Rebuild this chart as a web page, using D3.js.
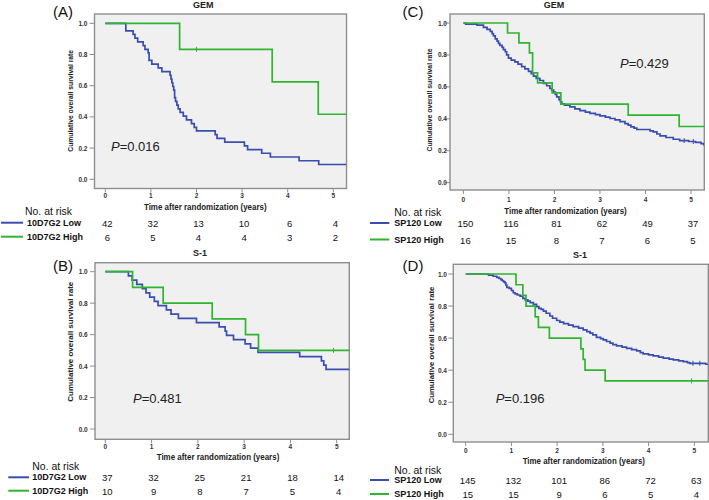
<!DOCTYPE html>
<html><head><meta charset="utf-8">
<script src="https://cdn.jsdelivr.net/npm/d3@7"></script>
<style>body{margin:0;background:#fff}svg{display:block}</style>
</head><body><svg id="c" width="709" height="500"></svg>
<script>
// ---------- DATA ----------
const xTicks = [0, 1, 2, 3, 4, 5];
const yTicks = [0.0, 0.2, 0.4, 0.6, 0.8, 1.0];
const xAxisTitle = "Time after randomization (years)";
const yAxisTitle = "Cumulative overall survival rate";
const riskHeader = "No. at risk";
const groupNames10 = ["10D7G2 Low", "10D7G2 High"];
const groupNamesSP = ["SP120 Low", "SP120 High"];
const panelIds = ["(A)", "(B)", "(C)", "(D)"];
const panelTitles = ["GEM", "S-1", "GEM", "S-1"];
const pValues = ["0.016", "0.481", "0.429", "0.196"];

// Kaplan-Meier steps [time (years), survival]
const lowA = [[0,1],[0.45,0.952],[0.61,0.929],[0.65,0.905],[0.71,0.881],[0.83,0.857],[0.87,0.833],[0.94,0.810],[0.96,0.762],[1.02,0.738],[1.16,0.714],[1.24,0.690],[1.42,0.667],[1.44,0.643],[1.46,0.619],[1.48,0.595],[1.50,0.571],[1.52,0.524],[1.54,0.500],[1.57,0.476],[1.60,0.452],[1.64,0.429],[1.71,0.405],[1.78,0.381],[1.89,0.357],[1.95,0.333],[2.0,0.310],[2.41,0.286],[2.45,0.262],[2.62,0.238],[3.05,0.214],[3.12,0.190],[3.43,0.167],[3.62,0.143],[4.25,0.119],[4.68,0.095]];
const highA = [[0,1],[1.63,0.833],[3.66,0.625],[4.67,0.417]];
const censHighA = [2.0];

const lowB = [[0,1],[0.50,0.973],[0.58,0.946],[0.68,0.919],[0.80,0.892],[0.88,0.865],[0.96,0.838],[1.06,0.811],[1.14,0.784],[1.32,0.757],[1.42,0.730],[1.58,0.703],[1.97,0.676],[2.46,0.649],[2.59,0.622],[2.62,0.595],[2.77,0.568],[3.02,0.541],[3.14,0.514],[3.30,0.487],[4.20,0.460],[4.67,0.433],[4.72,0.406],[4.77,0.379]];
const highB = [[0,1],[0.59,0.9],[1.25,0.8],[2.31,0.7],[3.03,0.6],[3.31,0.5]];
const censHighB = [4.93];

const lowC = [[0,1],[0.05,0.993],[0.3,0.987],[0.44,0.973],[0.52,0.96],[0.59,0.947],[0.63,0.933],[0.66,0.92],[0.70,0.9],[0.74,0.887],[0.77,0.873],[0.80,0.86],[0.85,0.847],[0.88,0.833],[0.92,0.82],[0.95,0.8],[0.99,0.78],[1.05,0.767],[1.13,0.757],[1.20,0.743],[1.28,0.727],[1.35,0.713],[1.43,0.697],[1.49,0.683],[1.54,0.667],[1.60,0.653],[1.68,0.64],[1.76,0.622],[1.83,0.607],[1.90,0.59],[1.94,0.58],[1.98,0.567],[2.02,0.553],[2.05,0.537],[2.10,0.52],[2.13,0.507],[2.16,0.493],[2.22,0.485],[2.34,0.475],[2.45,0.462],[2.56,0.451],[2.68,0.442],[2.78,0.434],[2.90,0.426],[3.00,0.418],[3.12,0.41],[3.22,0.402],[3.33,0.393],[3.44,0.383],[3.55,0.37],[3.62,0.36],[3.68,0.35],[3.75,0.342],[3.81,0.333],[4.10,0.325],[4.17,0.318],[4.25,0.305],[4.32,0.293],[4.45,0.283],[4.61,0.272],[4.75,0.264],[4.95,0.258],[5.10,0.252],[5.22,0.245],[5.28,0.238]];
const highC = [[0,1],[0.97,0.9375],[1.22,0.875],[1.45,0.8125],[1.52,0.6875],[1.63,0.625],[1.95,0.5625],[2.14,0.492],[3.62,0.423],[4.74,0.352]];
const censLowC = [4.85, 5.05];

const lowD = [[0,1],[0.5,0.993],[0.6,0.986],[0.68,0.979],[0.73,0.972],[0.77,0.965],[0.80,0.958],[0.83,0.951],[0.86,0.944],[0.88,0.931],[0.90,0.917],[0.95,0.91],[1.00,0.897],[1.04,0.883],[1.08,0.876],[1.13,0.869],[1.19,0.862],[1.25,0.848],[1.30,0.838],[1.36,0.831],[1.41,0.821],[1.48,0.81],[1.55,0.797],[1.60,0.786],[1.65,0.779],[1.70,0.769],[1.76,0.755],[1.84,0.738],[1.90,0.724],[1.99,0.71],[2.06,0.7],[2.14,0.69],[2.25,0.681],[2.35,0.672],[2.47,0.662],[2.57,0.652],[2.65,0.641],[2.72,0.631],[2.78,0.62],[2.86,0.605],[2.95,0.597],[3.01,0.589],[3.08,0.579],[3.16,0.569],[3.22,0.56],[3.30,0.552],[3.42,0.544],[3.52,0.536],[3.63,0.528],[3.74,0.52],[3.82,0.51],[3.88,0.502],[4.00,0.496],[4.10,0.489],[4.22,0.482],[4.32,0.475],[4.45,0.469],[4.54,0.464],[4.66,0.458],[4.76,0.453],[4.85,0.447],[4.90,0.443],[5.25,0.437]];
const highD = [[0,1],[1.10,0.933],[1.25,0.867],[1.32,0.8],[1.52,0.733],[1.59,0.667],[1.83,0.6],[2.52,0.533],[2.57,0.467],[2.61,0.4],[3.05,0.333]];
const censLowD = [4.97, 5.12];
const censHighD = [4.94];

const riskLowA = [42, 32, 13, 10, 6, 4];
const riskHighA = [6, 5, 4, 4, 3, 2];
const riskLowB = [37, 32, 25, 21, 18, 14];
const riskHighB = [10, 9, 8, 7, 5, 4];
const riskLowC = [150, 116, 81, 62, 49, 37];
const riskHighC = [16, 15, 8, 7, 6, 5];
const riskLowD = [145, 132, 101, 86, 72, 63];
const riskHighD = [15, 15, 9, 6, 5, 4];

// ---------- LAYOUT ----------
const layouts = [
 {box:[94.5,14,346.5,188.5], xr:[105.3,333.3], yr:[179.3,23.3], ytx:87.5, xty:195.5, xl:[205.3,206.7,122.7], yl:[70.7,100.8,101.7], ti:[203.3,5], pl:[63,11], pv:[111,146], head:[25,211], ln:[1,23], tx:27, rows:[222.7,236.7]},
 {box:[95,262.7,349.3,439.3], xr:[105.3,336.7], yr:[429,271.7], ytx:87.7, xty:446, xl:[218,456.7,122.6], yl:[70.7,341.7,120], ti:[200,253], pl:[63,265], pv:[133,397.5], head:[32.3,466], ln:[8.3,29], tx:32.3, rows:[477.3,490.7]},
 {box:[450,14,704.3,190], xr:[463.4,691], yr:[182.7,23], ytx:447, xty:199.3, xl:[565.5,210.7,122.4], yl:[429.3,100,103], ti:[554,5], pl:[413,11.7], pv:[620,62.5], head:[394.3,211.7], ln:[370,389.3], tx:394.3, rows:[223,239.5]},
 {box:[453.3,264.3,708.3,442], xr:[465.7,694.3], yr:[434.3,274], ytx:447, xty:450.7, xl:[583.8,461,122.3], yl:[431.7,345,116.7], ti:[580,255], pl:[413,265.5], pv:[495.7,397.5], head:[394.3,469.5], ln:[370,389], tx:394.3, rows:[480,494]}
];

const panels = [
 {names:groupNames10, low:lowA, high:highA, censLow:[], censHigh:censHighA, rl:riskLowA, rh:riskHighA},
 {names:groupNames10, low:lowB, high:highB, censLow:[], censHigh:censHighB, rl:riskLowB, rh:riskHighB},
 {names:groupNamesSP, low:lowC, high:highC, censLow:censLowC, censHigh:[], rl:riskLowC, rh:riskHighC},
 {names:groupNamesSP, low:lowD, high:highD, censLow:censLowD, censHigh:censHighD, rl:riskLowD, rh:riskHighD}
];

const BLUE = "#3a4db0", GREEN = "#2fb52f";
const FONT = "'Liberation Sans', Arial, sans-serif";
const svg = d3.select("#c");

panels.forEach((P, i) => {
  const L = layouts[i];
  const g = svg.append("g");
  const [bx0, by0, bx1, by1] = L.box;
  const x = d3.scaleLinear().domain([0, 5]).range(L.xr);
  const y = d3.scaleLinear().domain([0, 1]).range(L.yr);
  const tEnd = x.invert(bx1);

  g.append("rect").attr("x", bx0).attr("y", by0).attr("width", bx1 - bx0).attr("height", by1 - by0)
    .attr("fill", "#f0f0f0").attr("stroke", "#8e8e8e").attr("stroke-width", 1.4);

  const cid = "clip" + i;
  g.append("clipPath").attr("id", cid).append("rect")
    .attr("x", bx0).attr("y", by0).attr("width", bx1 - bx0).attr("height", by1 - by0);

  // y ticks
  yTicks.forEach(v => {
    g.append("line").attr("x1", bx0 - 5).attr("x2", bx0).attr("y1", y(v)).attr("y2", y(v))
      .attr("stroke", "#8e8e8e").attr("stroke-width", 1);
    g.append("text").attr("x", L.ytx).attr("y", y(v)).attr("text-anchor", "end")
      .attr("dominant-baseline", "central").attr("font-family", FONT).attr("font-size", 6.5)
      .attr("font-weight", "bold").attr("fill", "#333").text(d3.format(".1f")(v));
  });
  // x ticks
  xTicks.forEach(v => {
    g.append("line").attr("x1", x(v)).attr("x2", x(v)).attr("y1", by1).attr("y2", by1 + 4)
      .attr("stroke", "#8e8e8e").attr("stroke-width", 1);
    g.append("text").attr("x", x(v)).attr("y", L.xty).attr("text-anchor", "middle")
      .attr("dominant-baseline", "central").attr("font-family", FONT).attr("font-size", 6.5)
      .attr("font-weight", "bold").attr("fill", "#333").text(v);
  });

  // axis titles
  g.append("text").attr("x", L.xl[0]).attr("y", L.xl[1]).attr("text-anchor", "middle")
    .attr("dominant-baseline", "central").attr("font-family", FONT).attr("font-size", 8.3)
    .attr("font-weight", "bold").attr("fill", "#222")
    .attr("textLength", L.xl[2]).attr("lengthAdjust", "spacingAndGlyphs").text(xAxisTitle);
  g.append("text").attr("transform", `translate(${L.yl[0]},${L.yl[1]}) rotate(-90)`)
    .attr("text-anchor", "middle").attr("dominant-baseline", "central")
    .attr("font-family", FONT).attr("font-size", 6.8).attr("font-weight", "bold").attr("fill", "#222")
    .attr("textLength", L.yl[2]).attr("lengthAdjust", "spacingAndGlyphs").text(yAxisTitle);

  // title and panel id
  g.append("text").attr("x", L.ti[0]).attr("y", L.ti[1]).attr("text-anchor", "middle")
    .attr("dominant-baseline", "central").attr("font-family", FONT).attr("font-size", 9)
    .attr("font-weight", "bold").attr("fill", "#222").text(panelTitles[i]);
  g.append("text").attr("x", L.pl[0]).attr("y", L.pl[1]).attr("text-anchor", "middle")
    .attr("dominant-baseline", "central").attr("font-family", FONT).attr("font-size", 15)
    .attr("fill", "#111").text(panelIds[i]);

  // curves
  const lineGen = d3.line().x(d => x(d[0])).y(d => y(d[1])).curve(d3.curveStepAfter);
  const series = [
    {data: P.low, cens: P.censLow, color: BLUE},
    {data: P.high, cens: P.censHigh, color: GREEN}
  ];
  const cg = g.append("g").attr("clip-path", `url(#${cid})`);
  series.forEach(s => {
    const pts = s.data.concat([[tEnd, s.data[s.data.length - 1][1]]]);
    cg.append("path").attr("d", lineGen(pts)).attr("fill", "none")
      .attr("stroke", s.color).attr("stroke-width", 1.7);
    const bis = d3.bisector(d => d[0]).right;
    s.cens.forEach(t => {
      const sv = s.data[Math.max(0, bis(s.data, t) - 1)][1];
      cg.append("line").attr("x1", x(t)).attr("x2", x(t)).attr("y1", y(sv) - 2.5).attr("y2", y(sv) + 2.5)
        .attr("stroke", s.color).attr("stroke-width", 1);
    });
  });

  // p-value
  const pt = g.append("text").attr("x", L.pv[0]).attr("y", L.pv[1]).attr("dominant-baseline", "central")
    .attr("font-family", FONT).attr("font-size", 13).attr("fill", "#222");
  pt.append("tspan").attr("font-style", "italic").text("P");
  pt.append("tspan").text("=" + pValues[i]);

  // risk table
  g.append("text").attr("x", L.head[0]).attr("y", L.head[1]).attr("dominant-baseline", "central")
    .attr("font-family", FONT).attr("font-size", 11).attr("fill", "#111")
    .attr("textLength", 47).attr("lengthAdjust", "spacingAndGlyphs").text(riskHeader);
  [[P.rl, BLUE], [P.rh, GREEN]].forEach(([vals, color], r) => {
    const ry = L.rows[r];
    g.append("line").attr("x1", L.ln[0]).attr("x2", L.ln[1]).attr("y1", ry).attr("y2", ry)
      .attr("stroke", color).attr("stroke-width", 2);
    g.append("text").attr("x", L.tx).attr("y", ry).attr("dominant-baseline", "central")
      .attr("font-family", FONT).attr("font-size", 9).attr("font-weight", "bold").attr("fill", "#111")
      .text(P.names[r]);
    vals.forEach((v, k) => {
      g.append("text").attr("x", x(xTicks[k]) + 2).attr("y", ry + 0.5).attr("text-anchor", "middle")
        .attr("dominant-baseline", "central").attr("font-family", FONT).attr("font-size", 9.5)
        .attr("fill", "#111").text(v);
    });
  });
});
</script></body></html>
